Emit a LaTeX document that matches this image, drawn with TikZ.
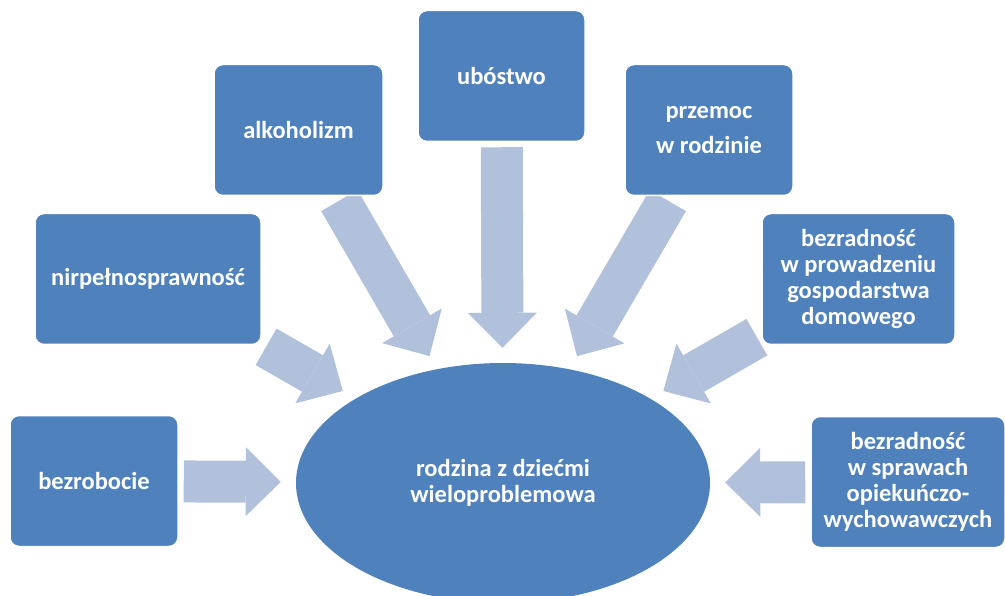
\documentclass[tikz,border=0pt]{standalone}
\usepackage{fontspec}
\setmainfont{Carlito}
\usetikzlibrary{
   arrows.meta,
   shapes.geometric,
   backgrounds
}
\definecolor{boxblue}{HTML}{4F81BD}
\definecolor{arrowblue}{HTML}{B2C1DB}

\begin{document}
\begin{tikzpicture}[
    x=1pt, y=-1pt,
    every node/.style={font=\fontsize{24.5}{26}\selectfont\bfseries, text=white},
    box/.style={rectangle, draw=white, line width=1.5pt, fill=boxblue, rounded corners=9pt, minimum height=131pt, align=center},
    flow/.style={draw=arrowblue, line width=42pt, -{Triangle[length=35pt, width=69pt, line width=0pt]}, shorten <=5pt, shorten >=15pt}
]
\useasboundingbox (0,0) rectangle (1005,596);

% centre
\node[ellipse, fill=boxblue, minimum width=414pt, minimum height=240pt, align=center] (fam) at (503,483) {rodzina z dziećmi\\wieloproblemowa};

% problem boxes
\node[box, minimum width=168pt] (bezr) at (94,481) {bezrobocie};
\node[box, minimum width=226pt] (niep) at (148,279) {nirpełnosprawność};
\node[box, minimum width=169pt] (alko) at (298.5,130) {alkoholizm};
\node[box, minimum width=167pt] (ubos) at (501.5,76) {ubóstwo};
\node[box, minimum width=168pt] (przem) at (709,130) {przemoc\\[9pt]w rodzinie};
\node[box, minimum width=193pt] (prow) at (858.5,279) {bezradność\\w prowadzeniu\\gospodarstwa\\domowego};
\node[box, minimum width=194pt] (spraw) at (908,482) {bezradność\\w sprawach\\opiekuńczo-\\wychowawczych};

% arrows
\begin{scope}[on background layer]
\draw[flow] (bezr) -- (fam);
\draw[flow] (niep) -- (fam);
\draw[flow] (alko) -- (fam);
\draw[flow] (ubos) -- (fam);
\draw[flow] (przem) -- (fam);
\draw[flow] (prow) -- (fam);
\draw[flow] (spraw) -- (fam);
\end{scope}

\end{tikzpicture}
\end{document}
